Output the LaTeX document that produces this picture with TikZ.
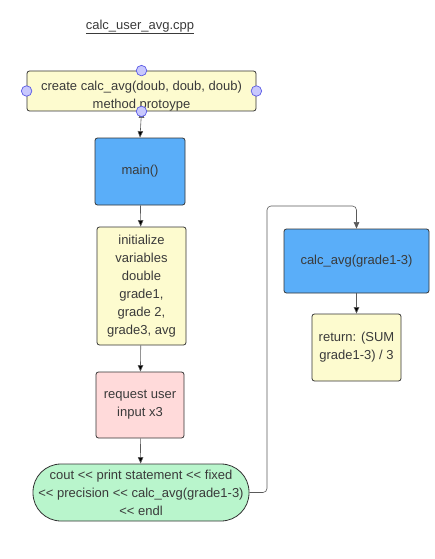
\documentclass[tikz,border=0pt]{standalone}
\usepackage{fontspec}
\setmainfont{Liberation Sans}
\usepackage{tikz}
\usetikzlibrary{arrows.meta}

\definecolor{boxline}{HTML}{333333}
\definecolor{txt}{HTML}{3A3A3A}
\definecolor{noteyellow}{HTML}{FDFBCF}
\definecolor{callblue}{HTML}{5AAEF9}
\definecolor{inputpink}{HTML}{FFDADA}
\definecolor{outgreen}{HTML}{B9F5CC}
\definecolor{handlefill}{HTML}{C8C8FD}
\definecolor{handleline}{HTML}{5A5AE6}
\definecolor{flowgray}{HTML}{5A5A5A}

\newcommand{\shl}{<{}<}

\begin{document}
\begin{tikzpicture}[x=1pt,y=-1pt,
		font=\fontsize{13}{18}\selectfont,text=txt,
		box/.style={draw=boxline,line width=0.8pt,rounded corners=2.5pt,align=center,inner sep=2pt},
		handle/.style={circle,draw=handleline,fill=handlefill,line width=0.7pt,minimum size=10.5pt,inner sep=0pt},
		flow/.style={-{Triangle[length=6.5pt,width=5.5pt]},draw=flowgray,line width=0.6pt}]
	\useasboundingbox (0,0) rectangle (435,559);
	\node (title) at (140,27) {\underline{calc\_user\_avg.cpp}};
	\node[box,fill=noteyellow,minimum width=229pt,minimum height=40pt] (proto) at (141.5,91) {};
	\node[align=center] (protext) at (141.5,96)
		{create calc\_avg(doub, doub, doub)\\method protoype};
	\node[box,fill=callblue,minimum width=90pt,minimum height=67pt] (main) at (140,171.5) {main()};
	\node[box,fill=noteyellow,minimum width=89pt,minimum height=118pt] (init) at (141.5,286)
		{initialize\\variables\\double\\grade1,\\grade 2,\\grade3, avg};
	\node[box,fill=inputpink,minimum width=88pt,minimum height=66pt] (req) at (140,405)
		{request user\\input x3};
	\node[box,fill=outgreen,rounded corners=28pt,minimum width=216pt,minimum height=57pt] (cout) at (141,492.5)
		{cout \shl{} print statement \shl{} fixed\\\shl{} precision \shl{} calc\_avg(grade1-3)\\\shl{} endl};
	\node[box,fill=callblue,minimum width=145pt,minimum height=64pt] (calc) at (356.5,261) {calc\_avg(grade1-3)};
	\node[box,fill=noteyellow,minimum width=89pt,minimum height=67pt] (ret) at (356.5,347.5)
		{return: (SUM\\grade1-3) / 3};
	\coordinate (bend) at (267,206);

	% connectors
	\path[flow]
		(proto.south) edge (main.north)
		(main) edge (init)
		(init) edge (req)
		(req) edge (cout)
		(calc) edge (ret);
	\draw[flow,rounded corners=4pt] (cout.east) -| (bend) -| (calc.north);

	% selection handles on the prototype box
	\foreach \a in {north,south,east,west}
		\node[handle] at (proto.\a) {};
\end{tikzpicture}
\end{document}
